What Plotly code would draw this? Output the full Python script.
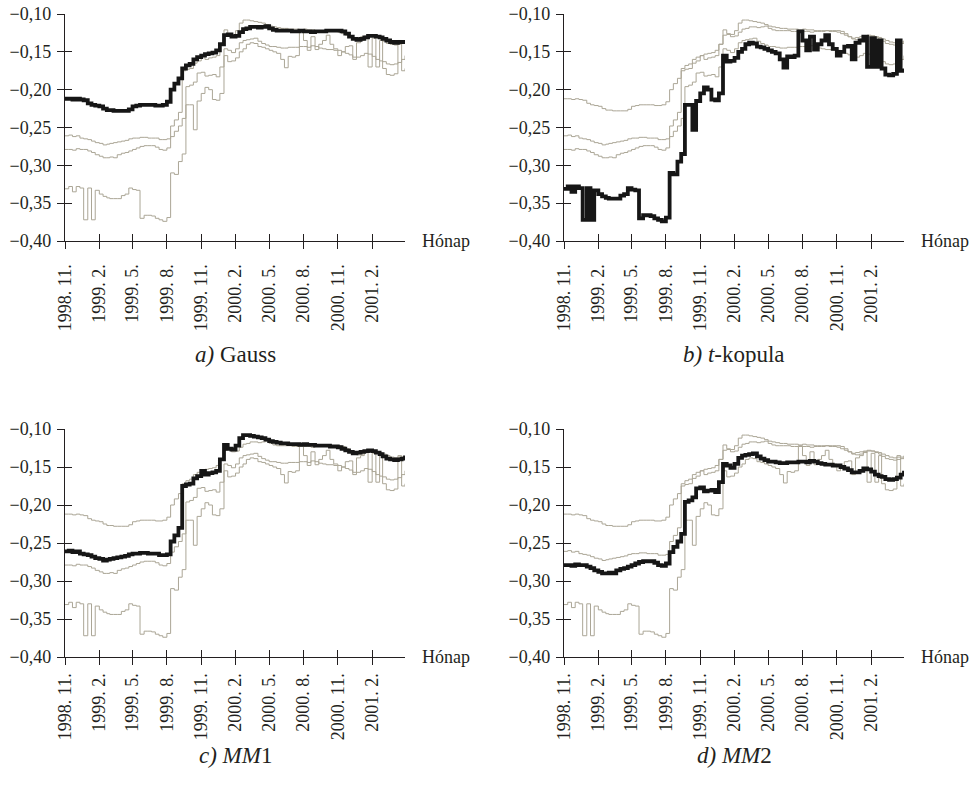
import plotly.graph_objects as go

# ---------------- data ----------------
months = [(1998, 11), (1998, 12)] + [(1999, m) for m in range(1, 13)] + \
         [(2000, m) for m in range(1, 13)] + [(2001, m) for m in range(1, 5)]
days = [1, 11, 21]
dates = [f"{y}-{m:02d}-{d:02d}" for (y, m) in months for d in days] + ["2001-04-30"]

gauss = [
    -0.212, -0.212, -0.213, -0.212, -0.213, -0.214, -0.218, -0.220, -0.221, -0.222,
    -0.225, -0.227, -0.227, -0.228, -0.228, -0.228, -0.228, -0.226, -0.222, -0.221,
    -0.220, -0.220, -0.220, -0.220, -0.221, -0.221, -0.220, -0.216, -0.200, -0.192,
    -0.185, -0.172, -0.168, -0.166, -0.160, -0.157, -0.155, -0.153, -0.152, -0.151,
    -0.148, -0.140, -0.128, -0.127, -0.130, -0.129, -0.124, -0.120, -0.119, -0.117,
    -0.117, -0.118, -0.117, -0.116, -0.119, -0.121, -0.122, -0.122, -0.122, -0.122,
    -0.123, -0.123, -0.122, -0.123, -0.123, -0.124, -0.123, -0.123, -0.123, -0.122,
    -0.122, -0.122, -0.122, -0.123, -0.126, -0.130, -0.133, -0.134, -0.133, -0.131,
    -0.129, -0.129, -0.130, -0.131, -0.133, -0.135, -0.137, -0.138, -0.137, -0.137,
    -0.136]

tkopula = [
    -0.331, -0.328, -0.335, -0.328, -0.330, -0.372, -0.330, -0.372, -0.333, -0.338,
    -0.341, -0.343, -0.344, -0.344, -0.344, -0.340, -0.338, -0.330, -0.332, -0.333,
    -0.370, -0.366, -0.366, -0.367, -0.370, -0.372, -0.374, -0.369, -0.310, -0.312,
    -0.295, -0.285, -0.220, -0.220, -0.253, -0.215, -0.205, -0.197, -0.200, -0.213,
    -0.214, -0.205, -0.155, -0.163, -0.162, -0.158, -0.150, -0.146, -0.140, -0.138,
    -0.139, -0.143, -0.144, -0.146, -0.148, -0.150, -0.152, -0.160, -0.171, -0.156,
    -0.157, -0.155, -0.123, -0.135, -0.148, -0.130, -0.147, -0.140, -0.135, -0.128,
    -0.140, -0.146, -0.155, -0.150, -0.143, -0.142, -0.160, -0.138, -0.135, -0.130,
    -0.170, -0.132, -0.170, -0.135, -0.172, -0.180, -0.181, -0.179, -0.135, -0.175,
    -0.172]

mm1 = [
    -0.261, -0.260, -0.262, -0.261, -0.264, -0.265, -0.266, -0.268, -0.270, -0.271,
    -0.273, -0.272, -0.271, -0.270, -0.269, -0.268, -0.267, -0.265, -0.264, -0.264,
    -0.263, -0.263, -0.264, -0.264, -0.264, -0.266, -0.266, -0.265, -0.248, -0.240,
    -0.230, -0.175, -0.173, -0.172, -0.165, -0.162, -0.155, -0.160, -0.158, -0.157,
    -0.155, -0.140, -0.121, -0.126, -0.127, -0.122, -0.112, -0.108, -0.108, -0.109,
    -0.110, -0.111, -0.112, -0.114, -0.116, -0.117, -0.118, -0.119, -0.119, -0.120,
    -0.120, -0.120, -0.121, -0.120, -0.121, -0.121, -0.122, -0.122, -0.122, -0.122,
    -0.123, -0.123, -0.124, -0.126, -0.128, -0.130, -0.132, -0.131, -0.130, -0.129,
    -0.128, -0.129, -0.131, -0.133, -0.136, -0.139, -0.140, -0.141, -0.140, -0.139,
    -0.135]

mm2 = [
    -0.279, -0.279, -0.280, -0.278, -0.279, -0.279, -0.281, -0.283, -0.286, -0.288,
    -0.290, -0.290, -0.289, -0.290, -0.286, -0.284, -0.283, -0.281, -0.279, -0.277,
    -0.275, -0.274, -0.274, -0.274, -0.276, -0.279, -0.280, -0.277, -0.262, -0.255,
    -0.248, -0.238, -0.196, -0.194, -0.190, -0.178, -0.177, -0.182, -0.181, -0.180,
    -0.183, -0.170, -0.146, -0.148, -0.151, -0.146, -0.138, -0.135, -0.134, -0.133,
    -0.132, -0.136, -0.139, -0.141, -0.143, -0.143, -0.144, -0.145, -0.145, -0.144,
    -0.144, -0.144, -0.143, -0.143, -0.144, -0.142, -0.143, -0.145, -0.146, -0.147,
    -0.147, -0.148, -0.148, -0.150, -0.152, -0.154, -0.157, -0.157, -0.155, -0.152,
    -0.153, -0.156, -0.160, -0.162, -0.163, -0.166, -0.167, -0.166, -0.164, -0.160,
    -0.155]

series = [gauss, tkopula, mm1, mm2]
subtitles = ["<i>a)</i> Gauss", "<i>b) t</i>-kopula", "<i>c) MM</i>1", "<i>d) MM</i>2"]

x_ticks = ["1998-11-01", "1999-02-01", "1999-05-01", "1999-08-01", "1999-11-01",
           "2000-02-01", "2000-05-01", "2000-08-01", "2000-11-01", "2001-02-01"]
x_labels = ["1998. 11.", "1999. 2.", "1999. 5.", "1999. 8.", "1999. 11.",
            "2000. 2.", "2000. 5.", "2000. 8.", "2000. 11.", "2001. 2."]
y_ticks = [-0.40, -0.35, -0.30, -0.25, -0.20, -0.15, -0.10]
y_labels = ["\u22120,40", "\u22120,35", "\u22120,30", "\u22120,25",
            "\u22120,20", "\u22120,15", "\u22120,10"]
x_range = ["1998-11-01", "2001-04-30"]
y_range = [-0.40, -0.10]

# ---------------- layout geometry ----------------
W, H = 974, 787
px_x = [(65, 405), (564, 904), (65, 405), (564, 904)]
px_y = [(14, 241), (14, 241), (429, 657), (429, 657)]
sub_y = [355, 355, 755, 755]
standoff = [8, 8, 1, 1]


def fx(p):
    return p / W


def fy(p):
    return 1 - p / H


FONT = "Liberation Serif"
INK = "#231f20"
GRAY = "#aba696"

fig = go.Figure()
layout = dict(width=W, height=H,
              margin=dict(l=0, r=0, t=0, b=0, pad=0, autoexpand=False),
              plot_bgcolor="white", paper_bgcolor="white", showlegend=False,
              font=dict(family=FONT, size=18, color=INK))
annotations = []

for k in range(4):
    xa = "x" if k == 0 else f"x{k+1}"
    ya = "y" if k == 0 else f"y{k+1}"
    xo, yo = f"x{k+5}", f"y{k+5}"
    for j in range(4):
        if j != k:
            fig.add_trace(go.Scatter(x=dates, y=series[j], mode="lines",
                                     line=dict(color=GRAY, width=1, shape="hv"),
                                     xaxis=xa, yaxis=ya, hoverinfo="skip"))
    fig.add_trace(go.Scatter(x=dates, y=series[k], mode="lines",
                             line=dict(color="#161616", width=3.8, shape="hv"),
                             xaxis=xa, yaxis=ya))
    # dummy trace to create overlay axes carrying the inner half of the ticks
    fig.add_trace(go.Scatter(x=[None], y=[None], xaxis=xo, yaxis=yo,
                             mode="lines", hoverinfo="skip"))

    dx = [fx(px_x[k][0]), fx(px_x[k][1])]
    dy = [fy(px_y[k][1]), fy(px_y[k][0])]
    axbase = dict(showgrid=False, zeroline=False, tickcolor=INK, tickwidth=1.3,
                  automargin=False)
    layout["xaxis" if k == 0 else f"xaxis{k+1}"] = dict(
        axbase, domain=dx, range=x_range, type="date", anchor=ya,
        tickmode="array", tickvals=x_ticks, ticktext=x_labels, tickangle=-90,
        ticks="outside", ticklen=7, showline=True, linecolor=INK, linewidth=1.3,
        tickfont=dict(family=FONT, size=18, color=INK),
        ticklabelstandoff=standoff[k], ticklabeloverflow="allow")
    layout["yaxis" if k == 0 else f"yaxis{k+1}"] = dict(
        axbase, domain=dy, range=y_range, anchor=xa,
        tickmode="array", tickvals=y_ticks, ticktext=y_labels,
        ticks="outside", ticklen=7, showline=True, linecolor=INK, linewidth=1.3,
        tickfont=dict(family=FONT, size=18, color=INK), ticklabelstandoff=2,
        ticklabeloverflow="allow")
    layout[f"xaxis{k+5}"] = dict(
        axbase, domain=dx, range=x_range, type="date", anchor=yo, overlaying=xa,
        tickmode="array", tickvals=x_ticks, ticks="inside", ticklen=7,
        showticklabels=False, showline=False)
    layout[f"yaxis{k+5}"] = dict(
        axbase, domain=dy, range=y_range, anchor=xo, overlaying=ya,
        tickmode="array", tickvals=y_ticks, ticks="inside", ticklen=7,
        showticklabels=False, showline=False)

    annotations.append(dict(text="Hónap", xref="paper", yref="paper",
                            x=fx(px_x[k][1] + 15), y=fy(px_y[k][1]),
                            xanchor="left", yanchor="middle", showarrow=False,
                            font=dict(family=FONT, size=18, color=INK)))
    annotations.append(dict(text=subtitles[k], xref="paper", yref="paper",
                            x=fx((px_x[k][0] + px_x[k][1]) / 2), y=fy(sub_y[k]),
                            xanchor="center", yanchor="middle", showarrow=False,
                            font=dict(family=FONT, size=23, color=INK)))

layout["annotations"] = annotations
fig.update_layout(**layout)
# remove the browser's default 8 px page margin so the figure sits at (0, 0)
fig.write_html("out.html",
               config={"displayModeBar": False},
               post_script="document.body.style.margin='0px';"
                           "document.body.style.overflow='hidden';")
